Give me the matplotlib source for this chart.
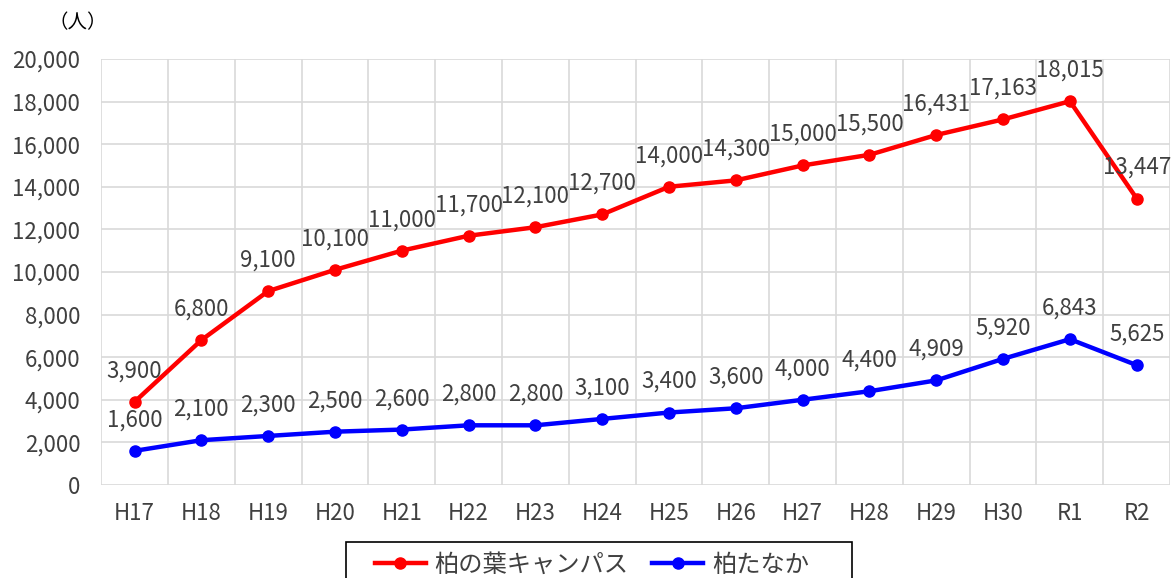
import matplotlib
matplotlib.use("Agg")
import matplotlib.pyplot as plt
from matplotlib.patches import Rectangle

plt.rcParams['font.family'] = ['Noto Sans CJK JP', 'DejaVu Sans']

# data
years = ["H17", "H18", "H19", "H20", "H21", "H22", "H23", "H24",
         "H25", "H26", "H27", "H28", "H29", "H30", "R1", "R2"]
kashiwanoha = [3900, 6800, 9100, 10100, 11000, 11700, 12100, 12700,
               14000, 14300, 15000, 15500, 16431, 17163, 18015, 13447]
kashiwa_tanaka = [1600, 2100, 2300, 2500, 2600, 2800, 2800, 3100,
                  3400, 3600, 4000, 4400, 4909, 5920, 6843, 5625]
series_names = ["柏の葉キャンパス", "柏たなか"]
series_colors = ["#ff0000", "#0000ff"]

text_color = "#404040"

W, H = 1176, 578
fig = plt.figure(figsize=(W / 100, H / 100), dpi=100)
ax = fig.add_axes([0.086, 0.161, 0.909, 0.737])

x = list(range(len(years)))
for vals, name, col in zip([kashiwanoha, kashiwa_tanaka], series_names, series_colors):
    ax.plot(x, vals, color=col, linewidth=3.2, marker='o', markersize=8, label=name, zorder=3)
    for xi, v in zip(x, vals):
        ax.annotate(f"{v:,}", (xi, v), xytext=(0, 14), textcoords="offset points",
                    ha="center", va="bottom", fontsize=16, color=text_color)

ax.set_xlim(-0.5, len(years) - 0.5)
ax.set_ylim(0, 20000)
ax.set_yticks(range(0, 20001, 2000))
ax.set_yticklabels([f"{v:,}" for v in range(0, 20001, 2000)])
ax.set_xticks(x)
ax.set_xticklabels(years)
# vertical grid lines between categories
ax.set_xticks([i - 0.5 for i in range(len(years) + 1)], minor=True)
ax.grid(axis="y", which="major", color="#d9d9d9", linewidth=1.2)
ax.grid(axis="x", which="minor", color="#d9d9d9", linewidth=1.2)
ax.tick_params(axis="both", which="both", length=0, labelsize=16, labelcolor=text_color)
ax.tick_params(axis="x", pad=12)
ax.tick_params(axis="y", pad=15)
for s in ax.spines.values():
    s.set_visible(False)
ax.set_axisbelow(True)

fig.text(0.041, 0.96, "（人）", fontsize=14, color="#000000", ha="left", va="center")

leg = ax.legend(loc="upper center", bbox_to_anchor=(0.459, -0.145), ncol=2, frameon=False,
                fontsize=17.5, handlelength=2.1, handletextpad=0.35, columnspacing=1.0,
                borderpad=0.2, borderaxespad=0)
for t in leg.get_texts():
    t.set_color(text_color)

# legend box, wider than the entries as in the reference
fig.patches.append(Rectangle((346 / W, -0.02), (852 - 346) / W, (H - 542) / H + 0.02,
                             transform=fig.transFigure, fill=False, edgecolor="#000000",
                             linewidth=1.2, zorder=5))

fig.savefig("out.png", dpi=100)
